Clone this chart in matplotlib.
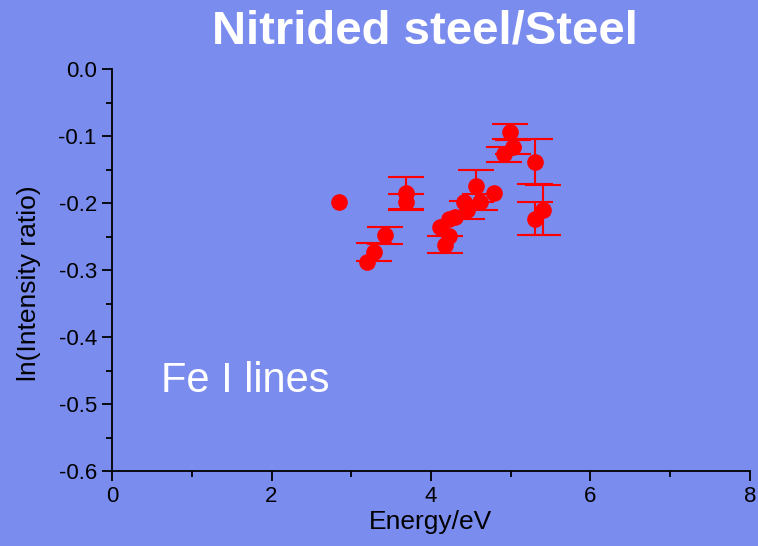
import numpy as np
import matplotlib
matplotlib.use("Agg")
import matplotlib.pyplot as plt
from matplotlib.ticker import MultipleLocator

plt.rcParams['font.family'] = ['Liberation Sans', 'DejaVu Sans']

# Fe I line energies, log intensity ratios and their uncertainties (0 = no bar)
energy = [2.85, 3.20, 3.29, 3.42, 3.69, 3.69, 4.11, 4.18, 4.22, 4.23, 4.30,
          4.42, 4.45, 4.56, 4.61, 4.79, 4.91, 4.99, 5.03, 5.30, 5.30, 5.40]
ln_ratio = [-0.198, -0.288, -0.273, -0.248, -0.185, -0.198, -0.235, -0.262,
            -0.249, -0.223, -0.220, -0.198, -0.210, -0.174, -0.198, -0.185,
            -0.127, -0.093, -0.116, -0.138, -0.223, -0.210]
ln_err = [0, 0, 0.013, 0.013, 0.0235, 0.012, 0, 0.0125, 0, 0, 0,
          0, 0.013, 0.0235, 0.0125, 0, 0.0117, 0.011, 0.011, 0.034, 0.025, 0.0374]

x_ticks = [0, 2, 4, 6, 8]
y_ticks = [0.0, -0.1, -0.2, -0.3, -0.4, -0.5, -0.6]

bg = '#7b8cef'
red = '#ff0000'

fig = plt.figure(figsize=(7.58, 5.46), dpi=100, facecolor=bg)
ax = fig.add_axes([0.1478, 0.1374, 0.8416, 0.7356], facecolor=bg)

x = np.array(energy)
y = np.array(ln_ratio)
e = np.array(ln_err)
m = e > 0
ax.errorbar(x[m], y[m], yerr=e[m], fmt='none', ecolor=red, elinewidth=1.5,
            capsize=13, capthick=1.5, zorder=2)
ax.plot(x, y, 'o', color=red, markersize=12, markeredgewidth=0, zorder=3)

ax.set_xlim(0, 8)
ax.set_ylim(-0.6, 0.0)
ax.set_xticks(x_ticks)
ax.set_xticklabels([str(v) for v in x_ticks])
ax.set_yticks(y_ticks)
ax.set_yticklabels([f"{v:.1f}" for v in y_ticks])
ax.xaxis.set_minor_locator(MultipleLocator(1))
ax.yaxis.set_minor_locator(MultipleLocator(0.05))

for s in ('top', 'right'):
    ax.spines[s].set_visible(False)
for s in ('left', 'bottom'):
    ax.spines[s].set_linewidth(1.3)
    ax.spines[s].set_color('black')

ax.tick_params(which='major', direction='out', length=7, width=1.3,
               labelsize=16, colors='black', pad=4)
ax.tick_params(which='minor', direction='out', length=4, width=1.3)

ax.set_xlabel('Energy/eV', fontsize=19, labelpad=2)
ax.set_ylabel('ln(Intensity ratio)', fontsize=19, labelpad=12.5, y=0.467)

fig.text(0.5605, 0.921, 'Nitrided steel/Steel', color='white', fontsize=34,
         fontweight='bold', ha='center', va='baseline')
ax.text(0.62, -0.482, 'Fe I lines', color='white', fontsize=30,
        ha='left', va='baseline')

fig.savefig('out.png', dpi=100, facecolor=bg)
